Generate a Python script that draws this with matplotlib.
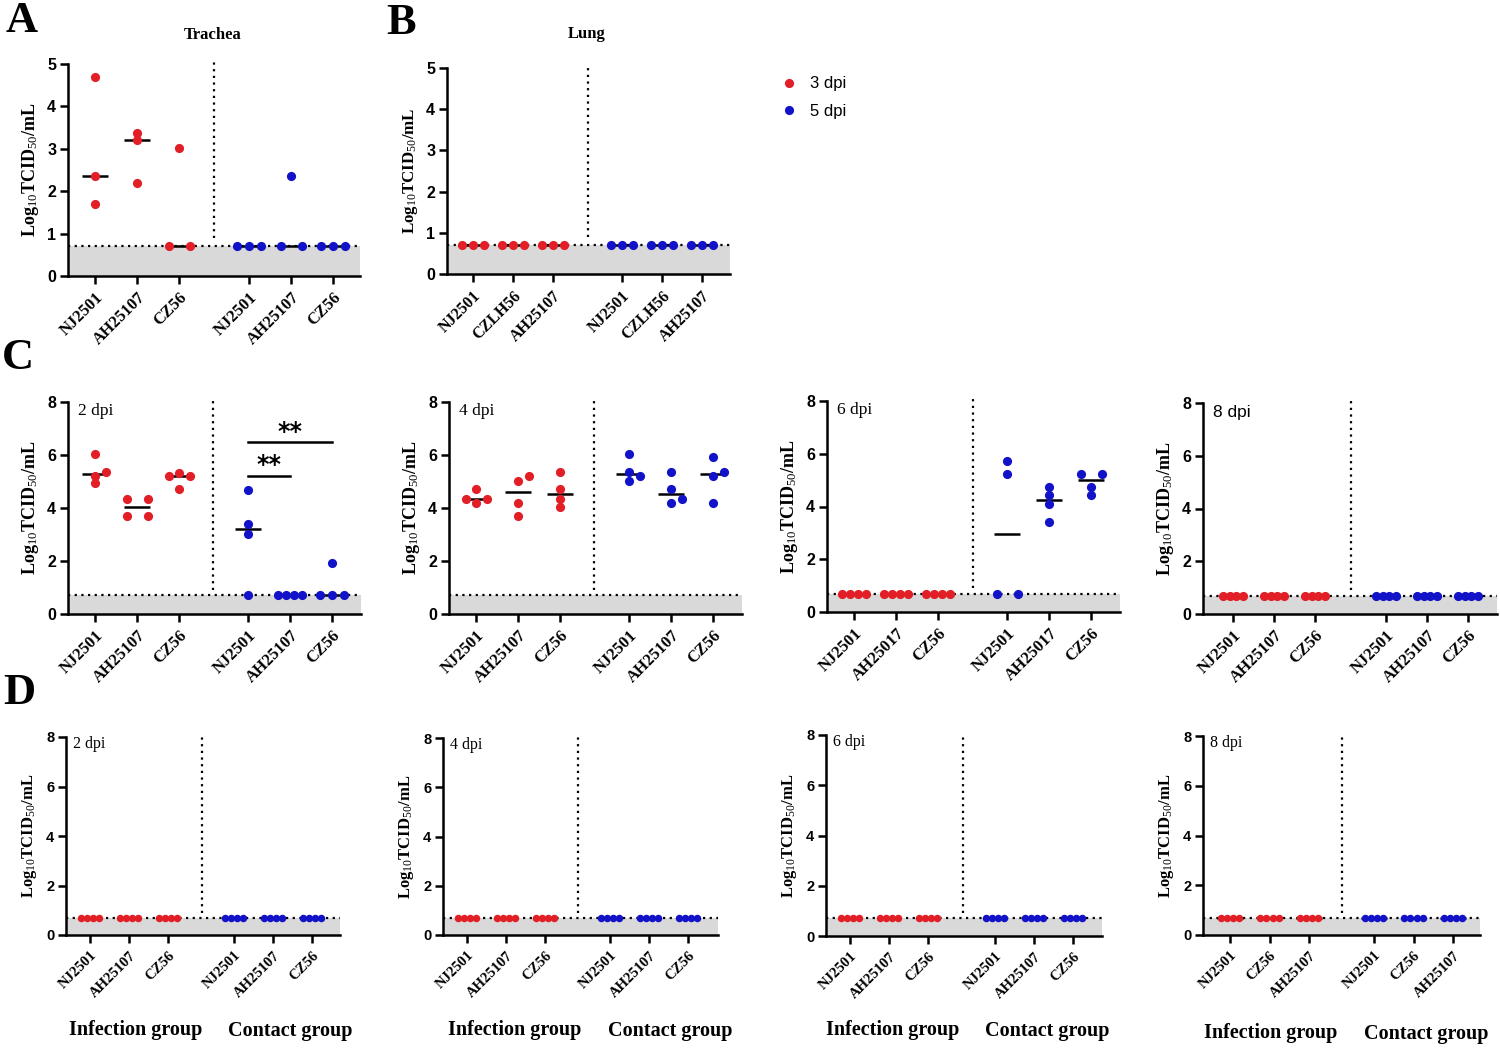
import matplotlib
matplotlib.use('Agg')
import matplotlib.pyplot as plt
from matplotlib.lines import Line2D
import numpy as np

plt.rcParams['mathtext.fontset'] = 'custom'
plt.rcParams['mathtext.rm'] = 'Liberation Serif'
plt.rcParams['mathtext.bf'] = 'Liberation Serif:bold'
plt.rcParams['mathtext.it'] = 'Liberation Serif:italic'

SERIF = 'Liberation Serif'
SANS = 'Liberation Sans'
RED = '#E21F26'
BLUE = '#1212C8'
GRAY = '#D9D9D9'
LOD = 0.7

# ---------------- data ----------------
trachea_labels = ['NJ2501', 'AH25107', 'CZ56']
trachea_3dpi = [[4.70, 2.37, 1.70], [3.37, 3.21, 2.20], [3.03, 0.7, 0.7]]
trachea_5dpi = [[0.7, 0.7, 0.7], [2.37, 0.7, 0.7], [0.7, 0.7, 0.7]]

lung_labels = ['NJ2501', 'CZLH56', 'AH25107']
lung_3dpi = [[0.7, 0.7, 0.7], [0.7, 0.7, 0.7], [0.7, 0.7, 0.7]]
lung_5dpi = [[0.7, 0.7, 0.7], [0.7, 0.7, 0.7], [0.7, 0.7, 0.7]]

c_labels_2 = ['NJ2501', 'AH25107', 'CZ56']
c_inf_2dpi = [[6.02, 5.36, 5.20, 4.93], [4.35, 4.35, 3.69, 3.69], [5.33, 5.20, 5.20, 4.70]]
c_con_2dpi = [[4.69, 3.38, 3.02, 0.7], [0.7, 0.7, 0.7, 0.7], [1.93, 0.7, 0.7, 0.7]]

c_labels_4 = ['NJ2501', 'AH25107', 'CZ56']
c_inf_4dpi = [[4.70, 4.35, 4.35, 4.19], [5.21, 5.02, 4.19, 3.69], [5.36, 4.70, 4.35, 4.03]]
c_con_4dpi = [[6.03, 5.36, 5.21, 5.03], [5.36, 4.70, 4.35, 4.19], [5.94, 5.36, 5.21, 4.19]]

c_labels_6 = ['NJ2501', 'AH25017', 'CZ56']
c_inf_6dpi = [[0.7, 0.7, 0.7, 0.7], [0.7, 0.7, 0.7, 0.7], [0.7, 0.7, 0.7, 0.7]]
c_con_6dpi = [[5.73, 5.24, 0.7, 0.7], [4.74, 4.42, 4.09, 3.41], [5.24, 5.24, 4.74, 4.42]]

c_labels_8 = ['NJ2501', 'AH25107', 'CZ56']
c_inf_8dpi = [[0.7, 0.7, 0.7, 0.7], [0.7, 0.7, 0.7, 0.7], [0.7, 0.7, 0.7, 0.7]]
c_con_8dpi = [[0.7, 0.7, 0.7, 0.7], [0.7, 0.7, 0.7, 0.7], [0.7, 0.7, 0.7, 0.7]]

d_labels_2 = ['NJ2501', 'AH25107', 'CZ56']
d_labels_4 = ['NJ2501', 'AH25107', 'CZ56']
d_labels_6 = ['NJ2501', 'AH25107', 'CZ56']
d_labels_8 = ['NJ2501', 'CZ56', 'AH25107']
d_inf_2dpi = [[0.7, 0.7, 0.7, 0.7], [0.7, 0.7, 0.7, 0.7], [0.7, 0.7, 0.7, 0.7]]
d_con_2dpi = [[0.7, 0.7, 0.7, 0.7], [0.7, 0.7, 0.7, 0.7], [0.7, 0.7, 0.7, 0.7]]
d_inf_4dpi = [[0.7, 0.7, 0.7, 0.7], [0.7, 0.7, 0.7, 0.7], [0.7, 0.7, 0.7, 0.7]]
d_con_4dpi = [[0.7, 0.7, 0.7, 0.7], [0.7, 0.7, 0.7, 0.7], [0.7, 0.7, 0.7, 0.7]]
d_inf_6dpi = [[0.7, 0.7, 0.7, 0.7], [0.7, 0.7, 0.7, 0.7], [0.7, 0.7, 0.7, 0.7]]
d_con_6dpi = [[0.7, 0.7, 0.7, 0.7], [0.7, 0.7, 0.7, 0.7], [0.7, 0.7, 0.7, 0.7]]
d_inf_8dpi = [[0.7, 0.7, 0.7, 0.7], [0.7, 0.7, 0.7, 0.7], [0.7, 0.7, 0.7, 0.7]]
d_con_8dpi = [[0.7, 0.7, 0.7, 0.7], [0.7, 0.7, 0.7, 0.7], [0.7, 0.7, 0.7, 0.7]]

legend_labels = ['3 dpi', '5 dpi']
sig_labels = ['**', '**']

# ---------------- layout ----------------
W, H = 1500, 1048
fig = plt.figure(figsize=(W / 100, H / 100), dpi=100)

YLAB = r'$\mathbf{Log}_{\mathrm{10}}\mathbf{TCID}_{\mathrm{50}}\mathbf{/mL}$'


def fx(x):
    return x / W


def fy(y):
    return 1 - y / H


def swarm(vals, xpx, ypx, spread, step=0.25, thr=6.0):
    v = np.asarray(vals, float)
    order = np.argsort(v, kind='stable')
    sv = v[order]
    offs = np.zeros(len(v))
    placed = []
    j = 0
    while j < len(sv):
        k = j
        while k + 1 < len(sv) and abs(sv[k + 1] - sv[j]) < 1e-9:
            k += 1
        idx = order[j:k + 1]
        n = len(idx)
        if n > 1:
            s = min(0.5, spread / (n - 1))
            o = (np.arange(n) - (n - 1) / 2) * s
            for ii, oo in zip(idx, o):
                offs[ii] = oo
                placed.append((oo, v[ii]))
        else:
            ii = idx[0]
            chosen = 0.0
            for c in [0.0, step, -step, 2 * step, -2 * step]:
                if all(np.hypot((c - a) * xpx, (v[ii] - b) * ypx) >= thr for a, b in placed):
                    chosen = c
                    break
            offs[ii] = chosen
            placed.append((chosen, v[ii]))
        j = k + 1
    return offs


def panel(spec, labels, inf, con, ymax, ystep, ms=6.6, spread=0.56,
          xt_size=12, yt_size=11.5, yl_size=13):
    l, r, t, b = spec['box']
    t0, sp, t3 = spec['ticks']
    ax = fig.add_axes([fx(l), fy(b), (r - l) / W, (b - t) / H])
    g = (t3 - t0) / sp
    pos = [0, 1, 2, g, g + 1, g + 2]
    ax.set_xlim((l - t0) / sp, (r - t0) / sp)
    ax.set_ylim(0, ymax)
    ypx = (b - t) / ymax
    ax.axhspan(0, LOD, color=GRAY, lw=0, zorder=0)
    ax.axhline(LOD, color='black', lw=1.6, ls=(0, (1, 2)), zorder=1)
    d = (spec['div'] - t0) / sp
    ax.plot([d, d], [0.9, ymax * 1.01], color='black', lw=1.6, ls=(0, (1, 2)),
            clip_on=False, zorder=1)
    groups = list(inf) + list(con)
    colors = [RED] * 3 + [BLUE] * 3
    for p, vals, c in zip(pos, groups, colors):
        offs = swarm(vals, sp, ypx, spread)
        ax.hlines(np.median(vals), p - 0.32, p + 0.32, color='black', lw=1.8, zorder=3)
        ax.scatter(p + offs, vals, s=ms ** 2, color=c, lw=0, zorder=4, clip_on=False)
    for s in ['top', 'right']:
        ax.spines[s].set_visible(False)
    for s in ['left', 'bottom']:
        ax.spines[s].set_linewidth(1.8)
    yt = np.arange(0, ymax + 0.01, ystep)
    ax.set_yticks(yt)
    ax.set_yticklabels([f'{int(v)}' for v in yt], fontfamily=SANS, fontweight='bold',
                       fontsize=yt_size)
    ax.set_xticks(pos)
    ax.set_xticklabels(list(labels) * 2, fontfamily=SERIF, fontweight='bold',
                       fontsize=xt_size, rotation=45, ha='right', rotation_mode='anchor')
    ax.tick_params(axis='both', direction='out', length=6, width=1.8, color='black')
    ax.tick_params(axis='y', pad=2.5)
    ax.tick_params(axis='x', pad=4)
    ax.set_ylabel(YLAB, fontsize=yl_size)
    ax.yaxis.set_label_coords(-27 / (r - l), 0.5)
    return ax, pos


# Panel A
spA = dict(box=(68, 360, 64, 276), ticks=(95, 42, 249), div=214)
axA, posA = panel(spA, trachea_labels, trachea_3dpi, trachea_5dpi, 5, 1, yl_size=13)
fig.text(fx(213), fy(35), 'Trachea', fontfamily=SERIF, fontweight='bold', fontsize=12,
         ha='center', va='center')

# Panel B
spB = dict(box=(447, 730, 68, 274), ticks=(473, 40, 622), div=588)
axB, posB = panel(spB, lung_labels, lung_3dpi, lung_5dpi, 5, 1, yl_size=12.2,
                  xt_size=11.5)
fig.text(fx(587), fy(34), 'Lung', fontfamily=SERIF, fontweight='bold', fontsize=12,
         ha='center', va='center')

handles = [Line2D([], [], marker='o', ls='none', color=RED, mec='none', ms=6.6),
           Line2D([], [], marker='o', ls='none', color=BLUE, mec='none', ms=6.6)]
fig.legend(handles, legend_labels, loc='upper left', bbox_to_anchor=(fx(772), fy(68)),
           frameon=False, prop=dict(family=SANS, size=12), handlelength=1.0,
           handletextpad=0.8, labelspacing=0.75, borderpad=0)

# Panel C
c_specs = [
    dict(box=(68, 361, 402, 614), ticks=(95, 42, 248), div=213),
    dict(box=(449, 742, 402, 614), ticks=(476, 42, 629), div=594),
    dict(box=(827, 1120, 401, 612), ticks=(854, 42, 1007), div=973),
    dict(box=(1203, 1497, 403, 614), ticks=(1233, 41, 1386), div=1351),
]
c_sets = [(c_labels_2, c_inf_2dpi, c_con_2dpi, '2 dpi', SERIF),
          (c_labels_4, c_inf_4dpi, c_con_4dpi, '4 dpi', SERIF),
          (c_labels_6, c_inf_6dpi, c_con_6dpi, '6 dpi', SERIF),
          (c_labels_8, c_inf_8dpi, c_con_8dpi, '8 dpi', SANS)]
c_axes = []
for k, (spec, (lab, inf, con, dtxt, fam)) in enumerate(zip(c_specs, c_sets)):
    spread = 0.48 if k == 3 else 0.56
    ax, pos = panel(spec, lab, inf, con, 8, 2, spread=spread, yl_size=13)
    c_axes.append((ax, pos))
    l, r, t, b = spec['box']
    fig.text(fx(l + 10), fy(t + 9), dtxt, fontfamily=fam, fontsize=12.5, ha='left',
             va='center')

# significance in C 2 dpi
axC1, posC1 = c_axes[0]
sig_pairs = [(3, 5, 6.48), (3, 4, 5.21)]
for (i0, i1, yv), lab in zip(sig_pairs, sig_labels):
    axC1.plot([posC1[i0], posC1[i1]], [yv, yv], color='black', lw=1.8, zorder=3)
    axC1.text((posC1[i0] + posC1[i1]) / 2, yv - 0.05, lab, ha='center', va='bottom',
              fontfamily='DejaVu Sans', fontweight='bold', fontsize=17)

# Panel D
d_specs = [
    dict(box=(66, 340, 737, 935), ticks=(90, 39, 234), div=202),
    dict(box=(443, 718, 738, 935), ticks=(467, 39, 610), div=578),
    dict(box=(826, 1102, 735, 936), ticks=(850, 39, 995), div=963),
    dict(box=(1203, 1480, 736, 935), ticks=(1230, 39.5, 1374), div=1342),
]
d_sets = [(d_labels_2, d_inf_2dpi, d_con_2dpi, '2 dpi'),
          (d_labels_4, d_inf_4dpi, d_con_4dpi, '4 dpi'),
          (d_labels_6, d_inf_6dpi, d_con_6dpi, '6 dpi'),
          (d_labels_8, d_inf_8dpi, d_con_8dpi, '8 dpi')]
d_group_px = [((136, 1030), (290, 1031)), ((515, 1030), (670, 1031)),
              ((893, 1030), (1047, 1031)), ((1271, 1033), (1426, 1034))]
for spec, (lab, inf, con, dtxt), gp in zip(d_specs, d_sets, d_group_px):
    ax, pos = panel(spec, lab, inf, con, 8, 2, ms=5.4, spread=0.46,
                    xt_size=10.5, yt_size=10.5, yl_size=12)
    l, r, t, b = spec['box']
    fig.text(fx(l + 7), fy(t + 7), dtxt, fontfamily=SERIF, fontsize=11.5, ha='left',
             va='center')
    fig.text(fx(gp[0][0]), fy(gp[0][1]), 'Infection group', fontfamily=SERIF,
             fontweight='bold', fontsize=14.5, ha='center', va='center')
    fig.text(fx(gp[1][0]), fy(gp[1][1]), 'Contact group', fontfamily=SERIF,
             fontweight='bold', fontsize=14.5, ha='center', va='center')

# Panel letters
for txt, (x, y) in zip(['A', 'B', 'C', 'D'], [(22, 21), (401, 23), (18, 358), (19, 693)]):
    fig.text(fx(x), fy(y), txt, fontfamily=SERIF, fontweight='bold', fontsize=32,
             ha='center', va='center')

fig.savefig('out.png', dpi=100, facecolor='white')
